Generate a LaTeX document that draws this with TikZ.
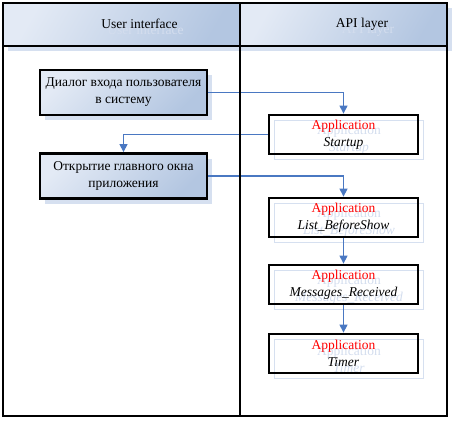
\documentclass[tikz,border=0pt]{standalone}
\usepackage{fontspec}
\setmainfont{Liberation Serif}
\usetikzlibrary{arrows.meta,shadows}

\definecolor{fillLight}{HTML}{E3EAF5}
\definecolor{fillDark}{HTML}{B3C6E1}
\definecolor{shadowBlue}{HTML}{D6E0F0}
\definecolor{ghostText}{HTML}{D3DDEE}
\definecolor{flowBlue}{HTML}{4A78C2}

\begin{document}
\begin{tikzpicture}[x=1pt,y=-1pt,
        font=\fontsize{13.5}{17}\selectfont,
        shadowed/.style={drop shadow={shadow xshift=5pt, shadow yshift=-5pt,
                        fill=shadowBlue, opacity=1}},
        lane/.style={draw, line width=2.8pt, inner sep=0pt},
        hdr/.style={draw, line width=2.8pt, top color=fillLight,
                        bottom color=fillDark, shading angle=60, inner sep=0pt,
                        minimum height=43pt},
        uibox/.style={draw, line width=2.8pt, top color=fillLight,
                        bottom color=fillDark, shading angle=45, shadowed,
                        minimum width=167pt, minimum height=45pt,
                        inner sep=0pt, align=center},
        apibox/.style={draw, line width=2.8pt,
                        minimum width=149pt, minimum height=39pt,
                        inner sep=0pt, align=center},
        ghostbox/.style={apibox, draw=shadowBlue, line width=1.6pt,
                        text=ghostText},
        flow/.style={draw=flowBlue, line width=1.2pt,
                        -{Triangle[length=8pt,width=8pt]}}]
    \useasboundingbox (0,0) rectangle (454,420);

    % headers
    \node[hdr, shadowed, minimum width=237pt] (uihead) at (121.5,24.5) {};
    \node[hdr, shadowed, minimum width=207pt] (apihead) at (343.5,24.5) {};
    \node[text=ghostText] (uighost) at (145.5,30) {User interface};
    \node[text=ghostText] (apighost) at (368,30) {API layer};
    \node (uititle) at (139.5,24) {User interface};
    \node (apititle) at (362,24) {API layer};

    % user interface side
    \node[uibox] (login) at (123.5,92.5) {Диалог входа пользователя\\в систему};
    \node[uibox] (mainwin) at (123.5,176) {Открытие главного окна\\приложения};

    % api side
    \foreach \name/\y/\evt in {startup/134.5/Startup,
                                beforeshow/217.5/List\_BeforeShow,
                                received/284.5/Messages\_Received,
                                timer/353.5/Timer} {
        \node[ghostbox] (\name ghost) at (349,\y+5.5) {Application\\\textit{\evt}};
        \node[apibox] (\name) at (343.5,\y)
            {\textcolor{red}{Application}\\\textit{\evt}};
    }

    % flow
    \draw[flow] (login.east) -| (startup.north);
    \draw[flow] (startup.west) -| (mainwin.north);
    \draw[flow] (mainwin.east) -| (beforeshow.north);
    \draw[flow] (beforeshow) -- (received);
    \draw[flow] (received) -- (timer);

    % swimlanes
    \node[lane, minimum width=237pt, minimum height=413pt] (uilane) at (121.5,209.5) {};
    \node[lane, minimum width=207pt, minimum height=413pt] (apilane) at (343.5,209.5) {};
\end{tikzpicture}
\end{document}
